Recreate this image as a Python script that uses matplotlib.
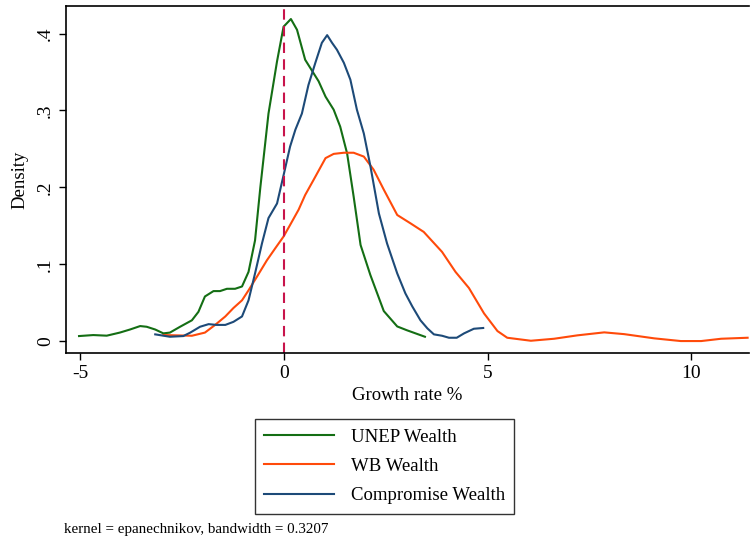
import matplotlib
matplotlib.use("Agg")
import matplotlib.pyplot as plt
from matplotlib.ticker import FixedLocator, FixedFormatter

plt.rcParams["font.family"] = ["Liberation Serif", "DejaVu Serif"]
plt.rcParams["axes.unicode_minus"] = False

# kernel density estimates (growth rate %, density)
unep_x = [-5.03, -4.68, -4.35, -4.03, -3.78, -3.53, -3.37, -3.16, -2.96, -2.80,
          -2.55, -2.26, -2.10, -1.94, -1.73, -1.57, -1.40, -1.20, -1.03, -0.87,
          -0.71, -0.58, -0.38, -0.17, -0.01, 0.17, 0.32, 0.52, 0.85, 1.02,
          1.22, 1.38, 1.55, 1.71, 1.88, 2.12, 2.45, 2.78, 3.02, 3.46]
unep_y = [0.0065, 0.0078, 0.007, 0.011, 0.015, 0.0195, 0.0186, 0.015, 0.010, 0.011,
          0.0186, 0.027, 0.038, 0.058, 0.065, 0.065, 0.068, 0.068, 0.071, 0.090,
          0.131, 0.200, 0.296, 0.364, 0.409, 0.419, 0.405, 0.366, 0.338, 0.318,
          0.301, 0.279, 0.244, 0.188, 0.125, 0.086, 0.039, 0.019, 0.014, 0.0056]

wb_x = [-2.96, -2.63, -2.26, -1.94, -1.69, -1.44, -1.24, -1.03, -0.87, -0.66,
        -0.42, -0.21, -0.01, 0.15, 0.36, 0.52, 0.73, 1.02, 1.22, 1.47,
        1.71, 1.96, 2.20, 2.45, 2.78, 3.11, 3.43, 3.88, 4.21, 4.54,
        4.91, 5.24, 5.48, 6.06, 6.63, 7.20, 7.86, 8.35, 9.09, 9.74,
        10.24, 10.73, 11.38]
wb_y = [0.0078, 0.0074, 0.0069, 0.011, 0.021, 0.032, 0.043, 0.053, 0.066, 0.084,
        0.105, 0.121, 0.136, 0.151, 0.171, 0.190, 0.210, 0.238, 0.2435, 0.245,
        0.245, 0.240, 0.223, 0.197, 0.164, 0.153, 0.142, 0.116, 0.090, 0.069,
        0.036, 0.013, 0.0043, 0.0004, 0.003, 0.0074, 0.0113, 0.009, 0.0035, 0.0,
        0.0, 0.003, 0.0043]

comp_x = [-3.16, -2.80, -2.47, -2.30, -2.06, -1.85, -1.65, -1.44, -1.24, -1.03,
          -0.87, -0.71, -0.54, -0.38, -0.17, 0.0, 0.15, 0.28, 0.44, 0.60,
          0.77, 0.93, 1.06, 1.18, 1.30, 1.47, 1.63, 1.79, 1.96, 2.12,
          2.33, 2.53, 2.78, 2.98, 3.15, 3.35, 3.52, 3.68, 3.88, 4.05,
          4.24, 4.42, 4.66, 4.89]
comp_y = [0.0087, 0.0056, 0.0065, 0.011, 0.0186, 0.022, 0.021, 0.021, 0.025, 0.032,
          0.053, 0.088, 0.127, 0.160, 0.179, 0.218, 0.253, 0.275, 0.296, 0.333,
          0.362, 0.388, 0.398, 0.388, 0.379, 0.362, 0.340, 0.301, 0.270, 0.228,
          0.166, 0.127, 0.088, 0.062, 0.045, 0.027, 0.0165, 0.0087, 0.0069, 0.0043,
          0.0043, 0.010, 0.016, 0.017]

series = [("UNEP Wealth", unep_x, unep_y, "#146e14"),
          ("WB Wealth", wb_x, wb_y, "#ff4a0a"),
          ("Compromise Wealth", comp_x, comp_y, "#1d4a78")]

x_ticks = [-5, 0, 5, 10]
y_ticks = [0, 0.1, 0.2, 0.3, 0.4]
y_tick_labels = ["0", ".1", ".2", ".3", ".4"]

fig = plt.figure(figsize=(7.5, 5.39), dpi=100)
ax = fig.add_axes([0.088, 0.345, 0.911, 0.644])

for label, xs, ys, col in series:
    ax.plot(xs, ys, color=col, lw=1.5, label=label)

ax.axvline(0, color="#c8144b", lw=1.5, ls=(0, (5, 3)))

ax.set_xlim(-5.35, 11.42)
ax.set_ylim(-0.0156, 0.436)
ax.xaxis.set_major_locator(FixedLocator(x_ticks))
ax.yaxis.set_major_locator(FixedLocator(y_ticks))
ax.yaxis.set_major_formatter(FixedFormatter(y_tick_labels))
ax.tick_params(direction="out", length=5, width=1, labelsize=14, colors="black")
for t in ax.get_yticklabels():
    t.set_rotation(90)
    t.set_va("center")
ax.spines["right"].set_visible(False)
for s in ("left", "bottom", "top"):
    ax.spines[s].set_linewidth(1.2)

ax.set_xlabel("Growth rate %", fontsize=13.5, labelpad=4)
ax.set_ylabel("Density", fontsize=13.5, labelpad=6)

leg = fig.legend(loc="upper left", bbox_to_anchor=(0.34, 0.2226), fontsize=13.5,
                 frameon=True, fancybox=False, edgecolor="black",
                 handlelength=3.7, handletextpad=0.9, labelspacing=0.65,
                 borderpad=0.5, borderaxespad=0)
leg.get_frame().set_linewidth(1.0)

fig.text(0.085, 0.012, "kernel = epanechnikov, bandwidth = 0.3207", fontsize=10.8)

fig.savefig("out.png", dpi=100)
